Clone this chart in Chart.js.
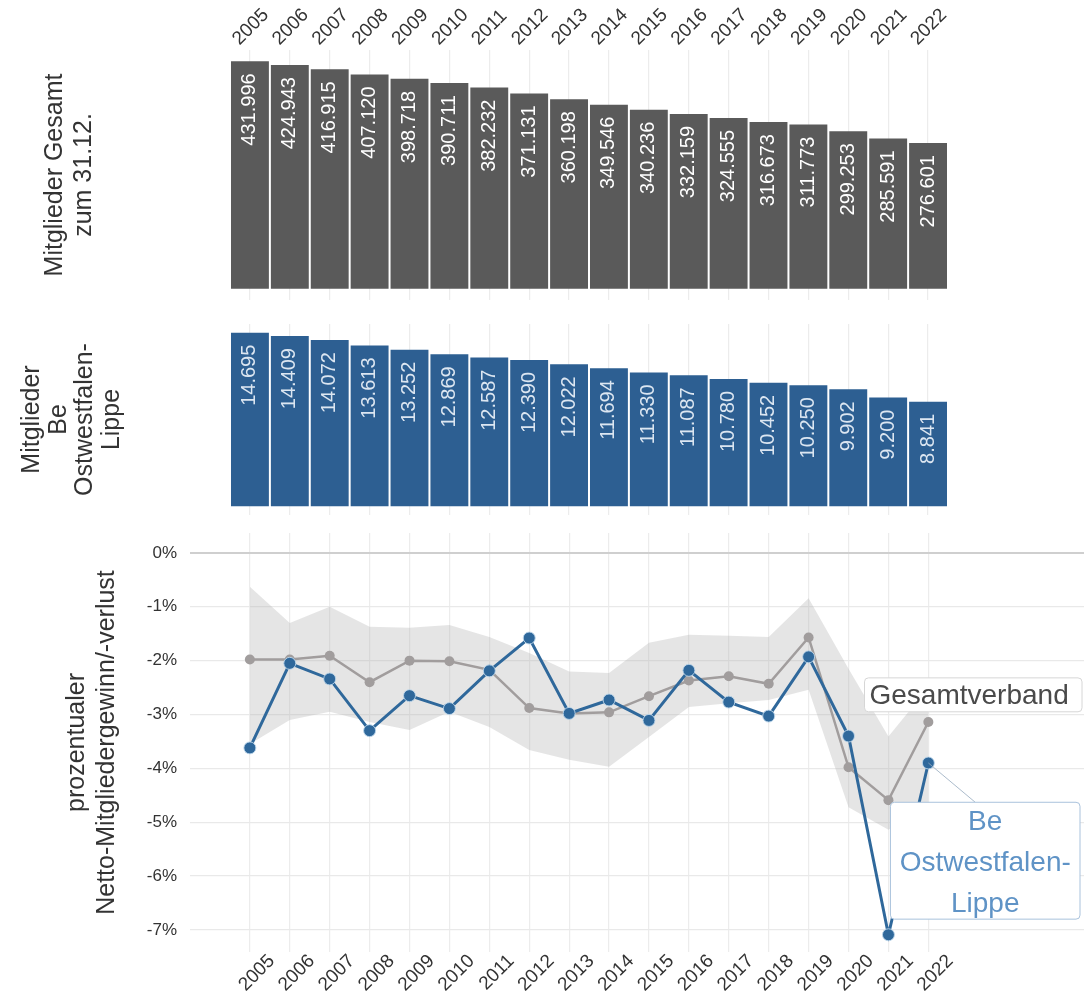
<!DOCTYPE html>
<html>
<head>
<meta charset="utf-8">
<script src="https://cdn.jsdelivr.net/npm/chart.js@4"></script>
<style>
  html, body { margin: 0; padding: 0; background: #ffffff; }
  body { width: 1084px; height: 996px; position: relative; overflow: hidden; }
  canvas { position: absolute; left: 0; }
</style>
</head>
<body>
<canvas id="gesamt" width="1084" height="310" style="top:0px"></canvas>
<canvas id="bezirk" width="1084" height="215" style="top:310px"></canvas>
<canvas id="quote" width="1084" height="471" style="top:525px"></canvas>
<script>
// Jahre (Stand jeweils 31.12.)
const years = [2005, 2006, 2007, 2008, 2009, 2010, 2011, 2012, 2013, 2014, 2015, 2016, 2017, 2018, 2019, 2020, 2021, 2022];
const yearLabels = years.map(String);

// Mitglieder gesamt
const membersTotal = [431996, 424943, 416915, 407120, 398718, 390711, 382232, 371131, 360198, 349546, 340236, 332159, 324555, 316673, 311773, 299253, 285591, 276601];
// Mitglieder Bezirk Ostwestfalen-Lippe
const membersOWL = [14695, 14409, 14072, 13613, 13252, 12869, 12587, 12390, 12022, 11694, 11330, 11087, 10780, 10452, 10250, 9902, 9200, 8841];

// prozentualer Netto-Mitgliedergewinn/-verlust (in %)
const pctTotal = [-1.98, -1.98, -1.91, -2.40, -2.00, -2.01, -2.17, -2.88, -2.98, -2.96, -2.66, -2.37, -2.29, -2.43, -1.57, -3.98, -4.59, -3.14];
const pctOWL = [-3.62, -2.05, -2.34, -3.30, -2.65, -2.89, -2.19, -1.58, -2.98, -2.73, -3.11, -2.18, -2.77, -3.03, -1.93, -3.40, -7.09, -3.90];
// Spannweite der Bezirke
const rangeUpper = [-0.63, -1.30, -1.00, -1.37, -1.39, -1.34, -1.56, -1.86, -2.20, -2.23, -1.67, -1.52, -1.54, -1.56, -0.84, -2.15, -3.41, -2.50];
const rangeLower = [-3.55, -3.10, -2.95, -3.14, -3.29, -2.95, -3.23, -3.66, -3.84, -3.97, -3.42, -2.86, -2.79, -2.73, -2.54, -4.72, -5.14, -4.70];
const pctTicks = [0, -1, -2, -3, -4, -5, -6, -7];

const FONT = "'Liberation Sans', Arial, sans-serif";
const GRID = '#ececec';

function fmtDE(n) {
  return String(n).replace(/\B(?=(\d{3})+(?!\d))/g, '.');
}

function noPadding(scale) {
  scale.paddingLeft = 0;
  scale.paddingRight = 0;
  scale.paddingTop = 0;
  scale.paddingBottom = 0;
}

// Werte senkrecht in die Balken schreiben
const barValueLabels = {
  id: 'barValueLabels',
  afterDatasetsDraw(chart, args, opts) {
    const ctx = chart.ctx;
    const meta = chart.getDatasetMeta(0);
    const data = chart.data.datasets[0].data;
    ctx.save();
    ctx.font = '20px ' + FONT;
    ctx.fillStyle = opts.color;
    ctx.textAlign = 'right';
    ctx.textBaseline = 'middle';
    meta.data.forEach((bar, i) => {
      ctx.save();
      ctx.translate(bar.x, bar.y + 12);
      ctx.rotate(-Math.PI / 2);
      ctx.fillText(fmtDE(data[i]), 0, 0);
      ctx.restore();
    });
    ctx.restore();
  }
};

function barChart(id, values, color, labelColor, titleLines, titlePad, lineHeight, showYears, padTop, padBottom) {
  const vmax = Math.max(...values);
  return new Chart(document.getElementById(id), {
    type: 'bar',
    data: {
      labels: yearLabels,
      datasets: [{
        data: values,
        backgroundColor: color,
        borderWidth: 0,
        barPercentage: 0.95,
        categoryPercentage: 1.0
      }]
    },
    options: {
      responsive: false,
      animation: false,
      devicePixelRatio: 1,
      layout: { autoPadding: false, padding: { left: 0, right: 136, top: padTop, bottom: padBottom } },
      plugins: {
        legend: { display: false },
        tooltip: { enabled: false },
        barValueLabels: { color: labelColor }
      },
      scales: {
        x: {
          type: 'category',
          position: showYears ? 'top' : 'bottom',
          offset: true,
          grid: { offset: false, color: GRID, lineWidth: 1.2, drawTicks: false },
          border: { display: false },
          ticks: {
            display: showYears,
            minRotation: 45,
            maxRotation: 45,
            padding: 0,
            labelOffset: 2,
            color: '#333333',
            font: { family: FONT, size: 19 }
          },
          afterFit(scale) { scale.height = showYears ? 50 : 0; noPadding(scale); }
        },
        y: {
          min: -0.05 * vmax,
          max: 1.05 * vmax,
          grid: { display: false },
          border: { display: false },
          ticks: { display: false },
          title: {
            display: true,
            text: titleLines,
            color: '#333333',
            font: { family: FONT, size: 25, lineHeight: lineHeight },
            padding: { top: titlePad, bottom: 0 }
          },
          afterFit(scale) { scale.width = 230; noPadding(scale); }
        }
      }
    },
    plugins: [barValueLabels]
  });
}

barChart('gesamt', membersTotal, '#5a5a5a', '#ffffff',
  ['Mitglieder Gesamt', 'zum 31.12.'], 41, 1.16, true, 0, 10);
barChart('bezirk', membersOWL, '#2d5f92', 'rgba(235,242,250,0.92)',
  ['Mitglieder', 'Be', 'Ostwestfalen-', 'Lippe'], 19, 1.06, false, 14, 10);

// Beschriftungen der beiden Reihen im Liniendiagramm
const seriesLabels = {
  id: 'seriesLabels',
  afterDatasetsDraw(chart) {
    const ctx = chart.ctx;
    const xs = chart.scales.x, ys = chart.scales.y;
    const px = v => xs.getPixelForValue(v);
    const py = v => ys.getPixelForValue(v);
    const iLast = years.length - 1;

    function box(x0, y0, x1, y1, stroke) {
      const r = 4;
      ctx.beginPath();
      ctx.moveTo(x0 + r, y0);
      ctx.lineTo(x1 - r, y0);
      ctx.quadraticCurveTo(x1, y0, x1, y0 + r);
      ctx.lineTo(x1, y1 - r);
      ctx.quadraticCurveTo(x1, y1, x1 - r, y1);
      ctx.lineTo(x0 + r, y1);
      ctx.quadraticCurveTo(x0, y1, x0, y1 - r);
      ctx.lineTo(x0, y0 + r);
      ctx.quadraticCurveTo(x0, y0, x0 + r, y0);
      ctx.closePath();
      ctx.fillStyle = '#ffffff';
      ctx.fill();
      ctx.lineWidth = 1;
      ctx.strokeStyle = stroke;
      ctx.stroke();
    }

    ctx.save();
    // Bezirk: Verbindungslinie zum letzten Punkt
    const bx0 = px(2021.05), bx1 = px(2025.8), by0 = py(-4.63), by1 = py(-6.8);
    ctx.beginPath();
    ctx.moveTo(px(years[iLast]), py(pctOWL[iLast]));
    ctx.lineTo((bx0 + bx1) / 2 - 10, by0);
    ctx.strokeStyle = 'rgba(150,170,190,0.8)';
    ctx.lineWidth = 1;
    ctx.stroke();

    box(bx0, by0, bx1, by1, '#a9c2dc');
    ctx.fillStyle = '#5f93c6';
    ctx.font = '28px ' + FONT;
    ctx.textAlign = 'center';
    ctx.textBaseline = 'middle';
    const cx = (bx0 + bx1) / 2;
    ['Be', 'Ostwestfalen-', 'Lippe'].forEach((t, i) => ctx.fillText(t, cx, by0 + 20 + i * 41));

    // Gesamtverband
    const gx0 = px(2020.4), gx1 = px(2025.85), gy0 = py(-2.32), gy1 = py(-2.95);
    box(gx0, gy0, gx1, gy1, '#d6d6d6');
    ctx.fillStyle = '#4a4a4a';
    ctx.textAlign = 'left';
    ctx.fillText('Gesamtverband', gx0 + 5, (gy0 + gy1) / 2 + 1);
    ctx.restore();
  }
};

new Chart(document.getElementById('quote'), {
  type: 'line',
  data: {
    datasets: [
      {
        label: 'OWL',
        data: years.map((y, i) => ({ x: y, y: pctOWL[i] })),
        borderColor: '#2f689b',
        backgroundColor: '#2f689b',
        borderWidth: 3,
        pointRadius: 6,
        pointBorderColor: 'rgba(190,215,235,0.9)',
        pointBorderWidth: 1,
        fill: false,
        order: 0
      },
      {
        label: 'Gesamtverband',
        data: years.map((y, i) => ({ x: y, y: pctTotal[i] })),
        borderColor: '#a19d9d',
        backgroundColor: '#a19d9d',
        borderWidth: 2.5,
        pointRadius: 5,
        pointBorderWidth: 0,
        fill: false,
        order: 1
      },
      {
        label: 'oben',
        data: years.map((y, i) => ({ x: y, y: rangeUpper[i] })),
        borderWidth: 0,
        pointRadius: 0,
        backgroundColor: 'rgba(175,175,175,0.33)',
        fill: '+1',
        order: 2
      },
      {
        label: 'unten',
        data: years.map((y, i) => ({ x: y, y: rangeLower[i] })),
        borderWidth: 0,
        pointRadius: 0,
        fill: false,
        order: 3
      }
    ]
  },
  options: {
    responsive: false,
    animation: false,
    devicePixelRatio: 1,
    layout: { autoPadding: false, padding: { left: 0, right: 0, top: 8, bottom: 0 } },
    plugins: { legend: { display: false }, tooltip: { enabled: false } },
    scales: {
      x: {
        type: 'linear',
        min: 2003.5,
        max: 2025.9,
        afterBuildTicks(scale) { scale.ticks = years.map(v => ({ value: v })); },
        grid: { color: GRID, lineWidth: 1.2, drawTicks: false },
        border: { display: false },
        ticks: {
          minRotation: 45,
          maxRotation: 45,
          padding: -2,
          labelOffset: 22,
          color: '#333333',
          font: { family: FONT, size: 19 },
          callback: v => String(v)
        },
        afterFit(scale) { scale.height = 44; noPadding(scale); }
      },
      y: {
        min: -7.41,
        max: 0.37,
        afterBuildTicks(scale) { scale.ticks = pctTicks.map(v => ({ value: v })); },
        grid: {
          color: ctx => (ctx.tick && ctx.tick.value === 0) ? '#cfcfcf' : '#e9e9e9',
          lineWidth: ctx => (ctx.tick && ctx.tick.value === 0) ? 2 : 1.2,
          drawTicks: false
        },
        border: { display: false },
        ticks: {
          padding: 13,
          color: '#333333',
          font: { family: FONT, size: 17 },
          callback: v => v + '%'
        },
        title: {
          display: true,
          text: ['prozentualer', 'Netto-Mitgliedergewinn/-verlust'],
          color: '#333333',
          font: { family: FONT, size: 25, lineHeight: 1.2 },
          padding: { top: 62, bottom: 0 }
        },
        afterFit(scale) { scale.width = 190; noPadding(scale); }
      }
    }
  },
  plugins: [seriesLabels]
});
</script>
</body>
</html>
